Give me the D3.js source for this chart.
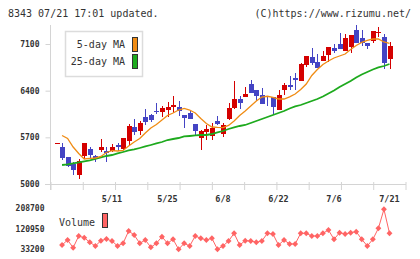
<!DOCTYPE html>
<html>
<head>
<meta charset="utf-8">
<script src="https://cdn.jsdelivr.net/npm/d3@7"></script>
<style>
body { margin: 0; background: #fff; }
svg { display: block; }
text { font-family: "DejaVu Sans Mono", monospace; }
</style>
</head>
<body>
<div id="chart"></div>
<script>
var width = 420;
var height = 259;

// trading days (2015)
var dates = ["4/21","4/22","4/23","4/24","4/27","4/28","4/30","5/1","5/7","5/8",
  "5/11","5/12","5/13","5/14","5/15","5/18","5/19","5/20","5/21","5/22",
  "5/25","5/26","5/27","5/28","5/29","6/1","6/2","6/3","6/4","6/5",
  "6/8","6/9","6/10","6/11","6/12","6/15","6/16","6/17","6/18","6/19",
  "6/22","6/23","6/24","6/25","6/26","6/29","6/30","7/1","7/2","7/3",
  "7/6","7/7","7/8","7/9","7/10","7/13","7/14","7/15","7/16","7/17","7/21"];

var opens  = [5605,5560,5410,5295,5135,5425,5525,5420,5510,5495,
  5495,5585,5525,5645,5855,5795,6005,6040,6095,6080,
  6110,6155,6155,6035,6065,5900,5690,5780,5720,5945,
  5750,5975,6140,6275,6305,6500,6410,6335,6320,6305,
  6110,6410,6485,6590,6545,6785,6905,6830,6845,6935,
  7040,7100,6995,7055,7310,7190,7115,7145,7275,7205,6875];
var highs  = [5620,5610,5410,5325,5375,5610,5555,5435,5670,5550,
  5600,5620,5695,5900,5975,5950,6125,6050,6215,6170,
  6230,6320,6245,6035,6110,5900,5810,5885,5915,6020,
  5915,6215,6545,6320,6455,6560,6410,6440,6320,6305,
  6410,6515,6620,6665,6815,6920,7040,6950,6995,7055,
  7100,7265,7250,7235,7385,7310,7115,7295,7355,7250,7130];
var lows   = [5600,5360,5255,5135,5075,5375,5390,5335,5485,5335,
  5480,5500,5510,5585,5735,5735,5885,5930,6050,6005,
  6005,6060,6020,5840,5975,5720,5510,5660,5660,5885,
  5705,5960,6125,6125,6305,6365,6245,6200,6170,6050,
  6110,6335,6410,6410,6545,6755,6785,6740,6845,6830,
  6965,7025,6995,6965,7115,7070,7025,7115,7205,6725,6725];
var closes = [5615,5395,5275,5210,5345,5610,5435,5380,5555,5470,
  5555,5555,5695,5870,5780,5920,5930,5965,6075,6140,
  6155,6185,6095,5990,5975,5795,5795,5825,5840,5900,
  5885,6140,6275,6215,6350,6365,6320,6200,6305,6155,
  6335,6485,6455,6560,6800,6920,6815,6740,6920,7055,
  6995,7025,7190,7235,7115,7115,7070,7295,7280,6815,7070];

// moving averages (null = not drawn)
var ma5 = [null,5728,5683,5555,5458,5375,5383,5390,5413,5473,
  5500,5495,5503,5570,5630,5683,5765,5840,5893,5960,
  6028,6065,6110,6133,6110,6065,5983,5908,5855,5848,
  5845,5878,5945,6028,6095,6170,6245,6305,6316,6298,
  6275,6275,6308,6350,6418,6500,6628,6718,6793,6845,
  6890,6920,6950,7018,7078,7123,7153,7175,7175,7130,7108];
var ma25 = [null,5285,5293,5308,5323,5338,5353,5375,5398,5420,
  5435,5458,5480,5503,5518,5540,5563,5585,5608,5630,
  5660,5675,5690,5713,5720,5728,5735,5735,5750,5773,
  5795,5825,5848,5870,5885,5915,5945,5975,6005,6035,
  6065,6095,6133,6163,6185,6215,6245,6275,6313,6358,
  6403,6455,6500,6545,6598,6643,6680,6718,6748,6770,6800];

var volumes = [null,50450,72010,38800,89000,81900,62100,46100,69000,76300,
  67700,46100,57800,110800,93600,57800,72000,40500,57800,86200,
  57800,75000,31900,57800,46100,89300,79300,72000,79300,31900,
  46100,67700,100900,50450,69000,67700,62100,67700,100900,97900,
  50450,72000,54800,54800,100900,100900,89300,89300,100900,115100,
  75000,103500,97900,103500,107800,75000,46100,75000,122500,204400,100900];

var priceTicks = [5000, 5700, 6400, 7100];
var volumeTicks = [33200, 120950, 208700];
var dateLabels = ["5/11","5/25","6/8","6/22","7/6","7/21"];

var COLOUR_UP = "#d40000";
var COLOUR_DOWN = "#4444c4";
var COLOUR_MA5 = "#f08c14";
var COLOUR_MA25 = "#1eaa1e";
var COLOUR_VOL = "#ff6464";
var COLOUR_AXIS = "#d4d4d4";
var COLOUR_TEXT = "#333";

var svg = d3.select("#chart").append("svg")
  .attr("width", width)
  .attr("height", height);

var x = d3.scalePoint()
  .domain(dates)
  .range([56.5, 389.5]);

var y = d3.scaleLinear()
  .domain([5000, 7400])
  .range([184, 24]);

var yv = d3.scaleLinear()
  .domain([33200, 208700])
  .range([249, 208.3]);

// grid ticks along bottom axis
var gx = d3.scaleLinear().domain([0, 11]).range([50, 405]);

// header
svg.append("text")
  .attr("x", 8).attr("y", 16.5)
  .attr("font-size", 10).attr("fill", COLOUR_TEXT)
  .text("8343 07/21 17:01 updated.");
svg.append("text")
  .attr("x", 411).attr("y", 16.5)
  .attr("font-size", 10).attr("fill", COLOUR_TEXT)
  .attr("text-anchor", "end")
  .text("(C)https://www.rizumu.net/");

// axes
var axis = svg.append("g").attr("shape-rendering", "crispEdges");
axis.append("line")
  .attr("x1", 50.5).attr("x2", 50.5)
  .attr("y1", 25).attr("y2", 190)
  .attr("stroke", COLOUR_AXIS);
axis.append("line")
  .attr("x1", 45).attr("x2", 406)
  .attr("y1", y(5000) + 0.5).attr("y2", y(5000) + 0.5)
  .attr("stroke", COLOUR_AXIS);

var yAxis = svg.append("g")
  .attr("transform", "translate(50.5,0)")
  .call(d3.axisLeft(y).tickValues(priceTicks).tickSize(5).tickPadding(6).tickFormat(d3.format("d")));
yAxis.select(".domain").remove();
yAxis.selectAll("line").attr("stroke", COLOUR_AXIS);
yAxis.selectAll("text")
  .attr("font-family", "DejaVu Sans Mono")
  .attr("font-size", 8).attr("font-weight", "bold").attr("fill", COLOUR_TEXT);

var xAxis = svg.append("g")
  .attr("transform", "translate(0.5,182)")
  .call(d3.axisBottom(gx).ticks(11).tickSize(8).tickFormat(""));
xAxis.select(".domain").remove();
xAxis.selectAll("line").attr("stroke", COLOUR_AXIS);

svg.append("g").selectAll("text")
  .data(dateLabels)
  .enter().append("text")
  .attr("x", function(d) { return x(d); })
  .attr("y", 202)
  .attr("text-anchor", "middle")
  .attr("font-size", 8.5).attr("font-weight", "bold").attr("fill", COLOUR_TEXT)
  .text(function(d) { return d; });

// candles
var candles = dates.map(function(d, i) {
  return {date: d, o: opens[i], h: highs[i], l: lows[i], c: closes[i]};
});

var cg = svg.append("g").attr("shape-rendering", "crispEdges");
cg.selectAll("line.wick")
  .data(candles)
  .enter().append("line")
  .attr("class", "wick")
  .attr("x1", function(d) { return Math.round(x(d.date)) + 0.5; })
  .attr("x2", function(d) { return Math.round(x(d.date)) + 0.5; })
  .attr("y1", function(d) { return y(d.h); })
  .attr("y2", function(d) { return y(d.l); })
  .attr("stroke", function(d) { return d.c >= d.o ? COLOUR_UP : COLOUR_DOWN; });

cg.selectAll("rect.body")
  .data(candles)
  .enter().append("rect")
  .attr("class", "body")
  .attr("x", function(d) { return Math.round(x(d.date)) - 2; })
  .attr("width", 5)
  .attr("y", function(d) { return y(Math.max(d.o, d.c)); })
  .attr("height", function(d) { return Math.max(1, Math.abs(y(d.o) - y(d.c))); })
  .attr("fill", function(d) { return d.c >= d.o ? COLOUR_UP : COLOUR_DOWN; });

// moving averages
var maLine = function(values) {
  return d3.line()
    .defined(function(d, i) { return values[i] != null; })
    .x(function(d) { return x(d); })
    .y(function(d, i) { return y(values[i]); });
};

svg.append("path")
  .datum(dates)
  .attr("fill", "none")
  .attr("stroke", COLOUR_MA25)
  .attr("stroke-width", 1.8)
  .attr("d", maLine(ma25));

svg.append("path")
  .datum(dates)
  .attr("fill", "none")
  .attr("stroke", COLOUR_MA5)
  .attr("stroke-width", 1.3)
  .attr("d", maLine(ma5));

// legend
svg.append("rect")
  .attr("x", 65.5).attr("y", 31.5)
  .attr("width", 77).attr("height", 45)
  .attr("fill", "#fff")
  .attr("stroke", "#dcdcdc").attr("stroke-width", 1.5);

var legend = [{name: "5-day MA", colour: COLOUR_MA5}, {name: "25-day MA", colour: COLOUR_MA25}];
legend.forEach(function(item, i) {
  svg.append("text")
    .attr("x", 125).attr("y", 48 + i * 17)
    .attr("text-anchor", "end")
    .attr("font-size", 10).attr("fill", COLOUR_TEXT)
    .text(item.name);
  svg.append("rect")
    .attr("x", 132.5).attr("y", 37.5 + i * 17)
    .attr("width", 5).attr("height", 14)
    .attr("fill", item.colour)
    .attr("stroke", "#333");
});

// volume
svg.append("g").selectAll("text")
  .data(volumeTicks)
  .enter().append("text")
  .attr("x", 44.5)
  .attr("y", function(d) { return yv(d) + 3; })
  .attr("text-anchor", "end")
  .attr("font-size", 8).attr("font-weight", "bold").attr("fill", COLOUR_TEXT)
  .text(function(d) { return d; });

svg.append("text")
  .attr("x", 59).attr("y", 226)
  .attr("font-size", 10).attr("fill", COLOUR_TEXT)
  .text("Volume");
svg.append("rect")
  .attr("x", 102.5).attr("y", 213.5)
  .attr("width", 5).attr("height", 14)
  .attr("fill", COLOUR_VOL)
  .attr("stroke", "#333");

var volLine = d3.line()
  .defined(function(d, i) { return volumes[i] != null; })
  .x(function(d) { return x(d); })
  .y(function(d, i) { return yv(volumes[i]); });

svg.append("path")
  .datum(dates)
  .attr("fill", "none")
  .attr("stroke", COLOUR_VOL)
  .attr("stroke-width", 1)
  .attr("d", volLine);

svg.append("g").selectAll("path")
  .data(dates.filter(function(d, i) { return volumes[i] != null; }))
  .enter().append("path")
  .attr("transform", function(d) {
    return "translate(" + x(d) + "," + yv(volumes[dates.indexOf(d)]) + ")";
  })
  .attr("d", d3.symbol().type(d3.symbolDiamond2).size(22))
  .attr("fill", COLOUR_VOL);
</script>
</body>
</html>
